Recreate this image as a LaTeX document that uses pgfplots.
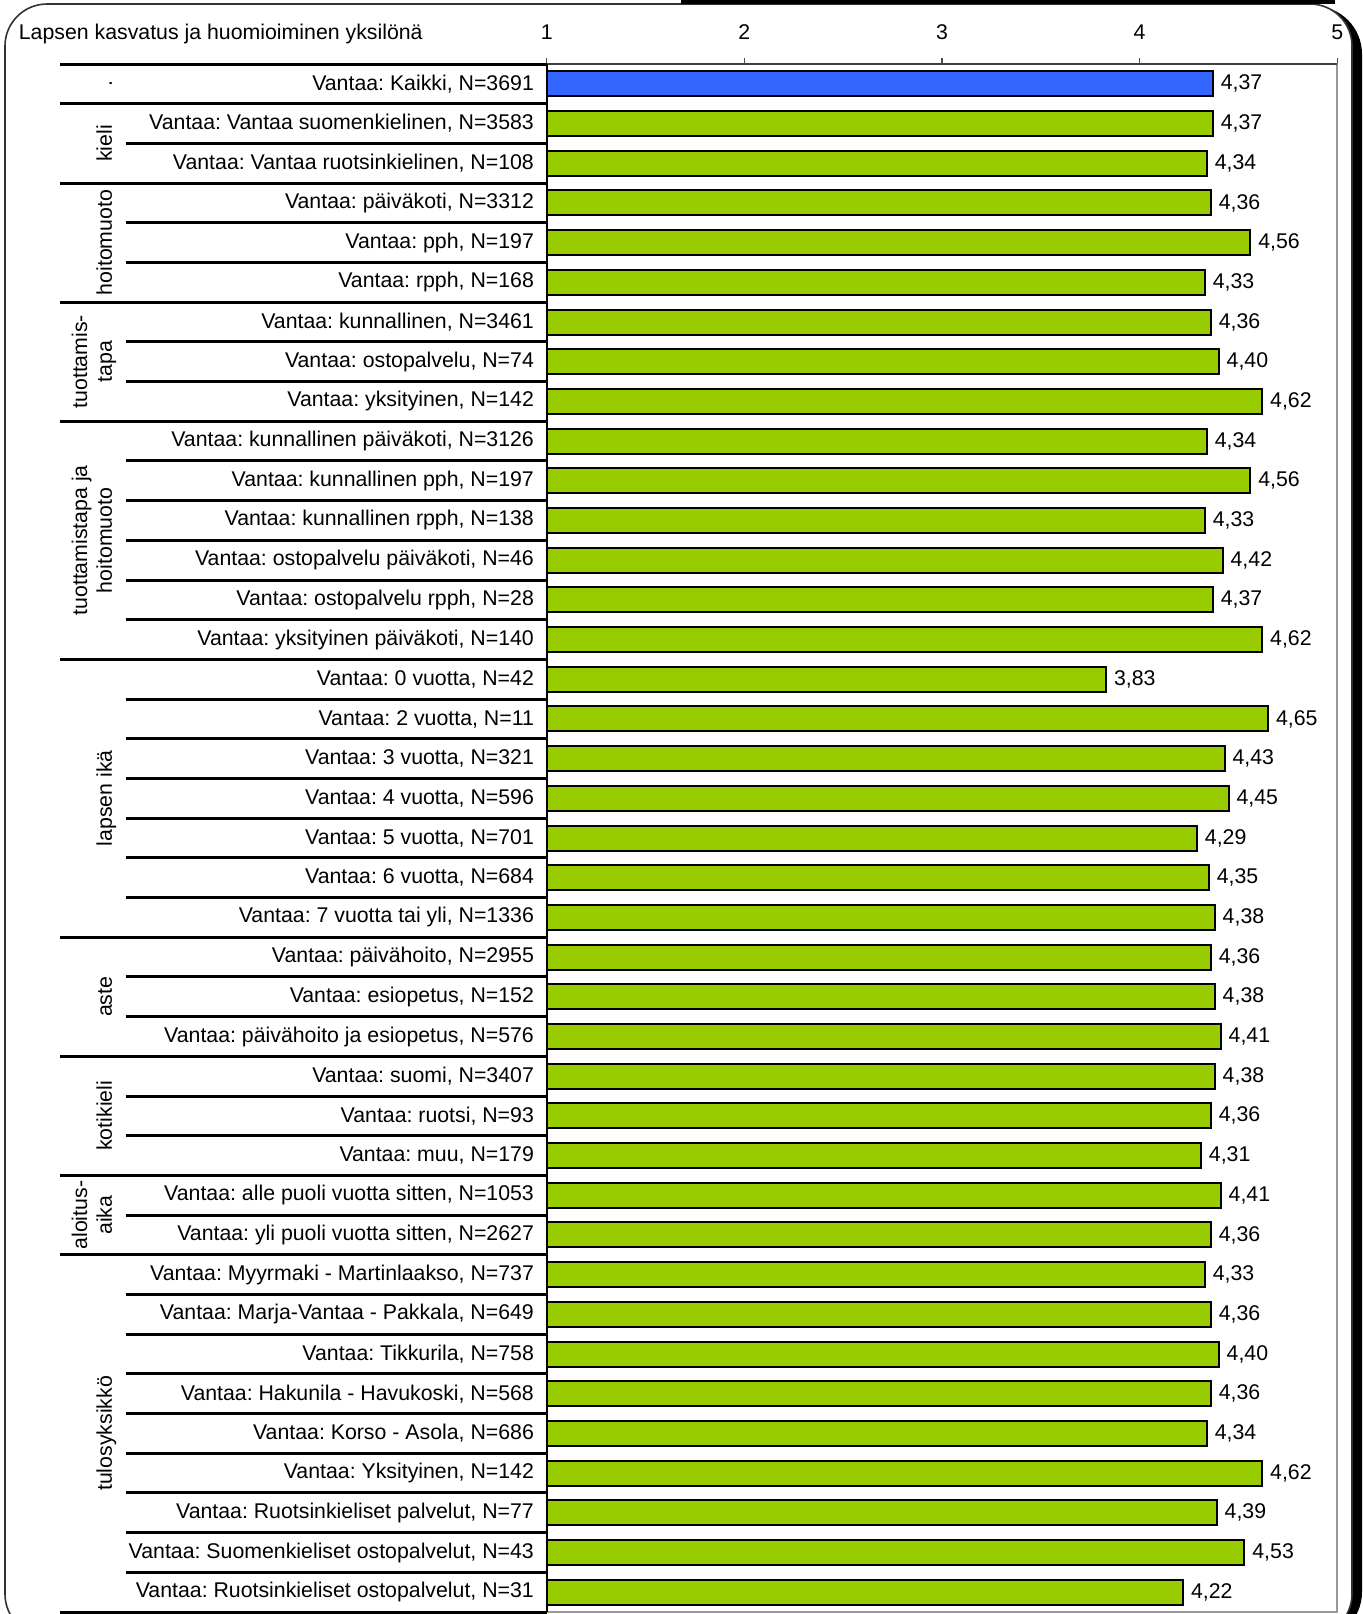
\documentclass[border=0pt]{standalone}
\usepackage{fontspec}
\setmainfont{Liberation Sans}
\usepackage{pgfplots}
\pgfplotsset{compat=1.18}
\definecolor{barblue}{HTML}{3366FF}
\definecolor{bargreen}{HTML}{99CC00}
\definecolor{axgray}{HTML}{999999}
\frenchspacing
\begin{document}
\begin{tikzpicture}
\begin{scope}[x=0.5pt,y=-0.5pt]
\path[use as bounding box] (0,0) rectangle (1362,1614);
% frame shadow and frame
\fill[black, rounded corners=24] (12,6) rectangle (1362,1640);
\draw[fill=white, draw=black!80, line width=0.8pt, rounded corners=21] (5,4) rectangle (1352,1636);
\fill[black] (681,0) rectangle (1335,4);
\end{scope}
\begin{axis}[
  at={(273.35pt,-32pt)}, anchor=north west,
  scale only axis, width=395.3pt, height=774pt,
  /pgf/number format/assume math mode=true,
  font=\fontsize{10.65pt}{12pt}\selectfont,
  xmin=1, xmax=5, ymin=0.5, ymax=39.5, y dir=reverse,
  xtick={1,2,3,4,5}, xtick pos=upper, xticklabel pos=upper,
  tick align=outside, major tick length=3pt,
  xtick style={draw=black!70, line width=0.6pt},
  xticklabel={\pgfmathprintnumber[fixed,precision=0]{\tick}},
  xticklabel style={anchor=base, inner sep=0pt, yshift=9.5pt},
  ytick={1,...,39}, ytick style={draw=none},
  yticklabel style={anchor=east, inner sep=0pt, xshift=-3.2pt},
  yticklabels={{Vantaa: Kaikki, N=3691},{Vantaa: Vantaa suomenkielinen, N=3583},{Vantaa: Vantaa ruotsinkielinen, N=108},{Vantaa: päiväkoti, N=3312},{Vantaa: pph, N=197},{Vantaa: rpph, N=168},{Vantaa: kunnallinen, N=3461},{Vantaa: ostopalvelu, N=74},{Vantaa: yksityinen, N=142},{Vantaa: kunnallinen päiväkoti, N=3126},{Vantaa: kunnallinen pph, N=197},{Vantaa: kunnallinen rpph, N=138},{Vantaa: ostopalvelu päiväkoti, N=46},{Vantaa: ostopalvelu rpph, N=28},{Vantaa: yksityinen päiväkoti, N=140},{Vantaa: 0 vuotta, N=42},{Vantaa: 2 vuotta, N=11},{Vantaa: 3 vuotta, N=321},{Vantaa: 4 vuotta, N=596},{Vantaa: 5 vuotta, N=701},{Vantaa: 6 vuotta, N=684},{Vantaa: 7 vuotta tai yli, N=1336},{Vantaa: päivähoito, N=2955},{Vantaa: esiopetus, N=152},{Vantaa: päivähoito ja esiopetus, N=576},{Vantaa: suomi, N=3407},{Vantaa: ruotsi, N=93},{Vantaa: muu, N=179},{Vantaa: alle puoli vuotta sitten, N=1053},{Vantaa: yli puoli vuotta sitten, N=2627},{Vantaa: Myyrmaki - Martinlaakso, N=737},{Vantaa: Marja-Vantaa - Pakkala, N=649},{Vantaa: Tikkurila, N=758},{Vantaa: Hakunila - Havukoski, N=568},{Vantaa: Korso - Asola, N=686},{Vantaa: Yksityinen, N=142},{Vantaa: Ruotsinkieliset palvelut, N=77},{Vantaa: Suomenkieliset ostopalvelut, N=43},{Vantaa: Ruotsinkieliset ostopalvelut, N=31}},
  axis line style={draw=axgray, line width=1pt},
  xbar, bar width=0.63, bar shift=0pt,
  clip mode=individual,
  nodes near coords,
  nodes near coords align={horizontal},
  every node near coord/.append style={anchor=west, inner sep=0pt, xshift=3.5pt, font=\fontsize{10.65pt}{12pt}\selectfont},
  /pgf/number format/.cd, use comma, fixed, fixed zerofill, precision=2,
]
\addplot[fill=barblue, draw=black, line width=1pt] coordinates {(4.37,1)};
\addplot[fill=bargreen, draw=black, line width=1pt] coordinates {
(4.37,2) (4.34,3) (4.36,4) (4.56,5) (4.33,6) (4.36,7) (4.40,8) (4.62,9)
(4.34,10) (4.56,11) (4.33,12) (4.42,13) (4.37,14) (4.62,15)
(3.83,16) (4.65,17) (4.43,18) (4.45,19) (4.29,20) (4.35,21) (4.38,22)
(4.36,23) (4.38,24) (4.41,25)
(4.38,26) (4.36,27) (4.31,28)
(4.41,29) (4.36,30)
(4.33,31) (4.36,32) (4.40,33) (4.36,34) (4.34,35) (4.62,36) (4.39,37) (4.53,38) (4.22,39)};
\draw[black!75, line width=1pt] (rel axis cs:0,1) -- (rel axis cs:1,1);
\draw[black, line width=1pt] (rel axis cs:0,0) -- (rel axis cs:0,1);
\end{axis}
\begin{scope}[x=0.5pt,y=-0.5pt, font=\fontsize{10.65pt}{12pt}\selectfont]
\node[anchor=base west, inner sep=0pt] at (18.5,39.5) {Lapsen kasvatus ja huomioiminen yksilönä};
% separators
\foreach \k in {0,1,3,6,9,15,22,25,28,30,39}
  \draw[black, line width=1.5pt] (60,{64+\k*39.692}) -- (547,{64+\k*39.692});
\foreach \k in {2,4,5,7,8,10,11,12,13,14,16,17,18,19,20,21,23,24,26,27,29,31,32,33,34,35,36,37,38}
  \draw[black, line width=1.5pt] (125.6,{64+\k*39.692}) -- (547,{64+\k*39.692});
% group labels
\tikzset{gl/.style={rotate=90, anchor=base, inner sep=0pt}}
\node[gl] at (112,{64+0.5*39.692}) {.};
\node[gl] at (112,{64+2*39.692}) {kieli};
\node[gl] at (112,{64+4.5*39.692}) {hoitomuoto};
\node[gl] at (87,{64+7.5*39.692}) {tuottamis-};
\node[gl] at (112,{64+7.5*39.692}) {tapa};
\node[gl] at (87,{64+12*39.692}) {tuottamistapa ja};
\node[gl] at (112,{64+12*39.692}) {hoitomuoto};
\node[gl] at (112,{64+18.5*39.692}) {lapsen ikä};
\node[gl] at (112,{64+23.5*39.692}) {aste};
\node[gl] at (112,{64+26.5*39.692}) {kotikieli};
\node[gl] at (87,{64+29*39.692}) {aloitus-};
\node[gl] at (112,{64+29*39.692}) {aika};
\node[gl] at (112,{64+34.5*39.692}) {tulosyksikkö};
\end{scope}
\end{tikzpicture}
\end{document}
